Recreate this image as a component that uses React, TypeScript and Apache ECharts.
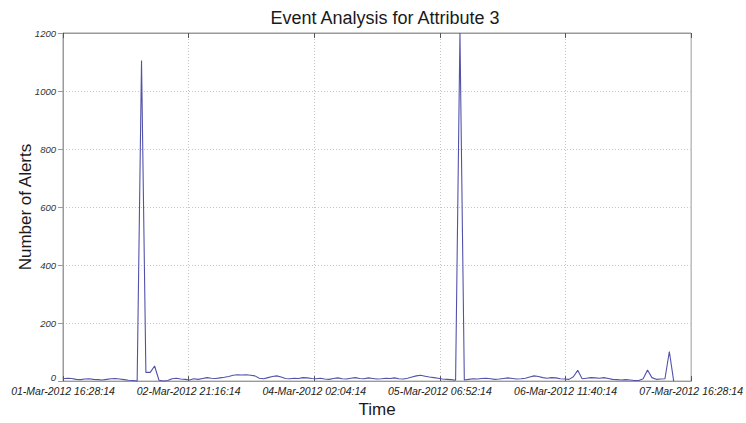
import React, { useEffect, useRef } from 'react';
import * as echarts from 'echarts';

const chartTitle = 'Event Analysis for Attribute 3';
const xName = 'Time';
const yName = 'Number of Alerts';

// Tick labels of the time axis (one tick every 1728 minutes = 28h48m)
const tickLabels = [
  '01-Mar-2012 16:28:14',
  '02-Mar-2012 21:16:14',
  '04-Mar-2012 02:04:14',
  '05-Mar-2012 06:52:14',
  '06-Mar-2012 11:40:14',
  '07-Mar-2012 16:28:14',
];
const tickIntervalMinutes = 1728;
const sampleStepMinutes = 60;

// Alerts per hourly sample, starting at 01-Mar-2012 16:28:14
const alerts = [
  8, 10, 9, 6, 5, 7, 8, 6, 5, 4, 6, 8, 9, 7, 5, 3, 2,
  0, 1105, 30, 30, 52, 3, 0, 2,
  8, 10, 7, 6, 4,
  8, 6, 9, 12, 10, 9, 11, 13, 16, 20, 22, 21, 22, 20, 18, 10, 8, 12, 16, 18, 14, 9,
  8, 10, 9, 12, 11, 9, 8, 10, 7, 6, 9, 11, 8, 7, 10, 12, 9, 8, 11, 9, 7,
  8, 10, 9, 11, 8, 7, 10, 14, 18, 20, 17, 14, 12, 10, 7, 6, 5, 3,
  1200,
  4, 6, 8, 7, 9, 10, 8, 6, 7, 9, 11, 9, 7, 8, 10, 14, 18, 16,
  12, 10, 12, 11, 8, 7, 6, 15, 37, 8, 10, 12, 11, 10, 12, 9, 6, 5, 4, 5, 4, 2, 2, 8, 38, 12, 6, 7, 8, 102, 0,
];

const yMin = 0;
const yMax = 1200;
const yInterval = 200;

const FONT = '"Liberation Sans", Arial, Helvetica, sans-serif';

export default function App() {
  const ref = useRef<HTMLDivElement>(null);

  useEffect(() => {
    if (!ref.current) return;
    const chart = echarts.init(ref.current, undefined, { renderer: 'svg' });
    const data = alerts.map((v, i) => [i * sampleStepMinutes, v]);
    const xMax = (tickLabels.length - 1) * tickIntervalMinutes;

    chart.setOption({
      animation: false,
      backgroundColor: '#ffffff',
      title: {
        text: chartTitle,
        left: 380,
        textAlign: 'center',
        top: 4,
        textStyle: { fontFamily: FONT, fontSize: 18, fontWeight: 'normal', color: '#1a1a1a' },
      },
      grid: {
        left: 63,
        right: 49,
        top: 33,
        bottom: 31,
        show: true,
        borderColor: '#9a9a9a',
        borderWidth: 1,
        backgroundColor: 'transparent',
      },
      xAxis: [
        {
          type: 'value',
          min: 0,
          max: xMax,
          interval: tickIntervalMinutes,
          name: xName,
          nameLocation: 'middle',
          nameGap: 10,
          nameTextStyle: { fontFamily: FONT, fontSize: 17, color: '#1a1a1a', verticalAlign: 'top' },
          axisLine: { show: true, lineStyle: { color: '#9a9a9a', width: 1 } },
          axisTick: { show: true, inside: true, length: 5, lineStyle: { color: '#555' } },
          axisLabel: {
            fontFamily: FONT,
            fontSize: 10.5,
            fontStyle: 'italic',
            color: '#222',
            margin: 4,
            formatter: (v: number) => tickLabels[Math.round(v / tickIntervalMinutes)] ?? '',
          },
          splitLine: { show: true, lineStyle: { color: '#c4c4c4', type: [1, 2], width: 1 } },
        },
        {
          type: 'value',
          position: 'top',
          min: 0,
          max: xMax,
          interval: tickIntervalMinutes,
          axisLine: { show: true, lineStyle: { color: '#9a9a9a', width: 1 } },
          axisTick: { show: true, inside: true, length: 5, lineStyle: { color: '#555' } },
          axisLabel: { show: false },
          splitLine: { show: false },
        },
      ],
      yAxis: {
        type: 'value',
        min: yMin,
        max: yMax,
        interval: yInterval,
        name: yName,
        nameLocation: 'middle',
        nameGap: 29,
        nameMoveOverlap: false,
        nameTextStyle: { fontFamily: FONT, fontSize: 17, color: '#1a1a1a' },
        axisLine: { show: true, lineStyle: { color: '#9a9a9a', width: 1 } },
        axisTick: { show: true, inside: false, length: 5, lineStyle: { color: '#9a9a9a' } },
        axisLabel: {
          fontFamily: FONT,
          fontSize: 9.5,
          fontStyle: 'italic',
          color: '#333',
          margin: 7,
          formatter: (v: number) => (v === 0 ? '{z|0}' : String(v)),
          rich: {
            z: { fontFamily: FONT, fontSize: 9.5, fontStyle: 'italic', color: '#333', padding: [0, 0, 7, 0] },
          },
        },
        splitLine: { show: true, lineStyle: { color: '#c4c4c4', type: [1, 2], width: 1 } },
      },
      series: [
        {
          type: 'line',
          data,
          xAxisIndex: 0,
          showSymbol: false,
          symbol: 'none',
          clip: true,
          lineStyle: { color: '#5252aa', width: 1.1 },
          emphasis: { disabled: true },
        },
      ],
    });

    return () => {
      chart.dispose();
    };
  }, []);

  return (
    <div
      ref={ref}
      style={{ position: 'fixed', left: 0, top: 0, width: 746, height: 423, background: '#fff' }}
    />
  );
}
